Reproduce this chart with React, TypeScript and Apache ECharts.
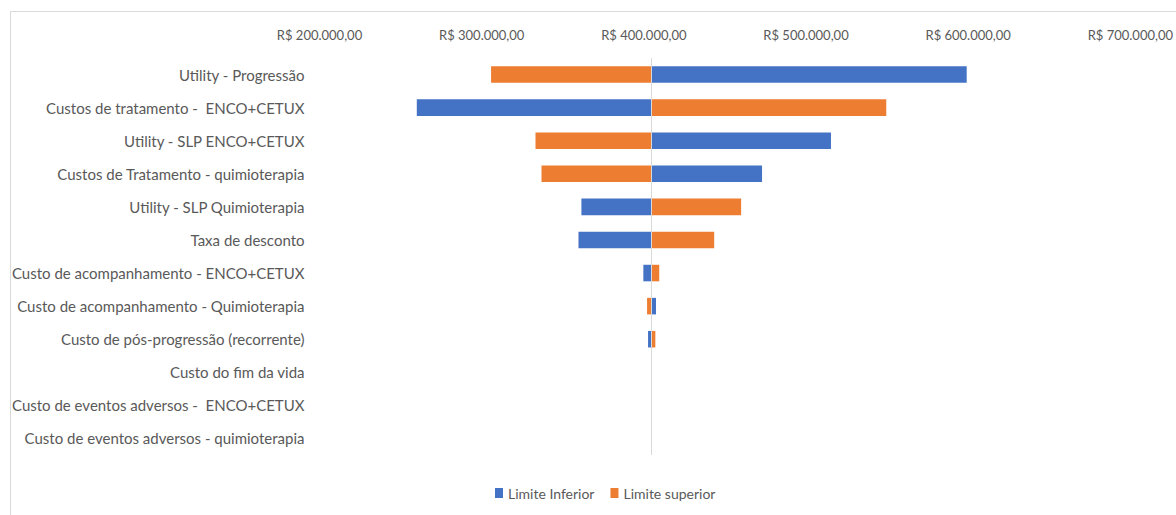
import React, { useEffect, useRef } from "react";
import * as echarts from "echarts";

const categories = [
  "Utility - Progressão",
  "Custos de tratamento -  ENCO+CETUX",
  "Utility - SLP ENCO+CETUX",
  "Custos de Tratamento - quimioterapia",
  "Utility - SLP Quimioterapia",
  "Taxa de desconto",
  "Custo de acompanhamento - ENCO+CETUX",
  "Custo de acompanhamento - Quimioterapia",
  "Custo de pós-progressão (recorrente)",
  "Custo do fim da vida",
  "Custo de eventos adversos -  ENCO+CETUX",
  "Custo de eventos adversos - quimioterapia",
];

const baseValue = 404600;

const limiteInferior = [599100, 260000, 515400, 472900, 361500, 359700, 399700, 407500, 402600, 404600, 404600, 404600];
const limiteSuperior = [305800, 549500, 333200, 336900, 460000, 443400, 409500, 402000, 407100, 404600, 404600, 404600];

const axisTicks = [200000, 300000, 400000, 500000, 600000, 700000];

const FONT = "Lato, 'Liberation Sans', sans-serif";

function fmtBRL(v: number): string {
  const int = Math.round(v).toString().replace(/\B(?=(\d{3})+(?!\d))/g, ".");
  return "R$ " + int + ",00";
}

export default function App() {
  const ref = useRef<HTMLDivElement>(null);
  useEffect(() => {
    document.body.style.margin = "0";
    document.body.style.overflow = "hidden";
    const chart = echarts.init(ref.current!, null, { renderer: "svg" });
    const helper = (arr: number[]) => arr.map((v) => Math.min(v, baseValue));
    const visible = (arr: number[]) => arr.map((v) => Math.abs(v - baseValue));
    chart.setOption({
      animation: false,
      backgroundColor: "#ffffff",
      textStyle: { fontFamily: FONT },
      graphic: [
        {
          type: "polyline",
          shape: { points: [[10.5, 515], [10.5, 11.5], [1176, 11.5]] },
          style: { fill: "none", stroke: "#d9d9d9", lineWidth: 1 },
          silent: true,
        },
      ],
      grid: { left: 319.5, right: 44, top: 58, bottom: 60, containLabel: false },
      legend: {
        data: ["Limite Inferior", "Limite superior"],
        bottom: 10,
        left: 490,
        itemWidth: 8,
        itemHeight: 10,
        itemGap: 16,
        icon: "rect",
        textStyle: { color: "#595959", fontSize: 14, fontFamily: FONT },
      },
      xAxis: {
        type: "value",
        position: "top",
        min: axisTicks[0],
        max: axisTicks[axisTicks.length - 1],
        interval: axisTicks[1] - axisTicks[0],
        axisLine: { show: false },
        axisTick: { show: false },
        splitLine: { show: false },
        axisLabel: {
          color: "#595959",
          fontSize: 13,
          fontFamily: FONT,
          margin: 17,
          formatter: (v: number) => fmtBRL(v),
        },
      },
      yAxis: {
        type: "category",
        inverse: true,
        data: categories,
        axisLine: { show: false },
        axisTick: { show: false },
        axisLabel: { color: "#595959", fontSize: 15, fontFamily: FONT, margin: 15 },
      },
      series: [
        {
          name: "helperInf",
          type: "bar",
          stack: "inf",
          data: helper(limiteInferior),
          itemStyle: { color: "transparent" },
          barWidth: "50%",
          silent: true,
        },
        {
          name: "Limite Inferior",
          type: "bar",
          stack: "inf",
          data: visible(limiteInferior),
          itemStyle: { color: "#4472C4" },
          barWidth: "50%",
          markLine: {
            silent: true,
            symbol: "none",
            label: { show: false },
            lineStyle: { color: "#d9d9d9", width: 1, type: "solid" },
            data: [{ xAxis: baseValue }],
          },
        },
        {
          name: "helperSup",
          type: "bar",
          stack: "sup",
          data: helper(limiteSuperior),
          itemStyle: { color: "transparent" },
          barWidth: "50%",
          barGap: "-100%",
          silent: true,
        },
        {
          name: "Limite superior",
          type: "bar",
          stack: "sup",
          data: visible(limiteSuperior),
          itemStyle: { color: "#ED7D31" },
          barWidth: "50%",
          barGap: "-100%",
        },
      ],
    });
    return () => chart.dispose();
  }, []);
  return <div ref={ref} style={{ width: 1176, height: 515, overflow: "hidden" }} />;
}
